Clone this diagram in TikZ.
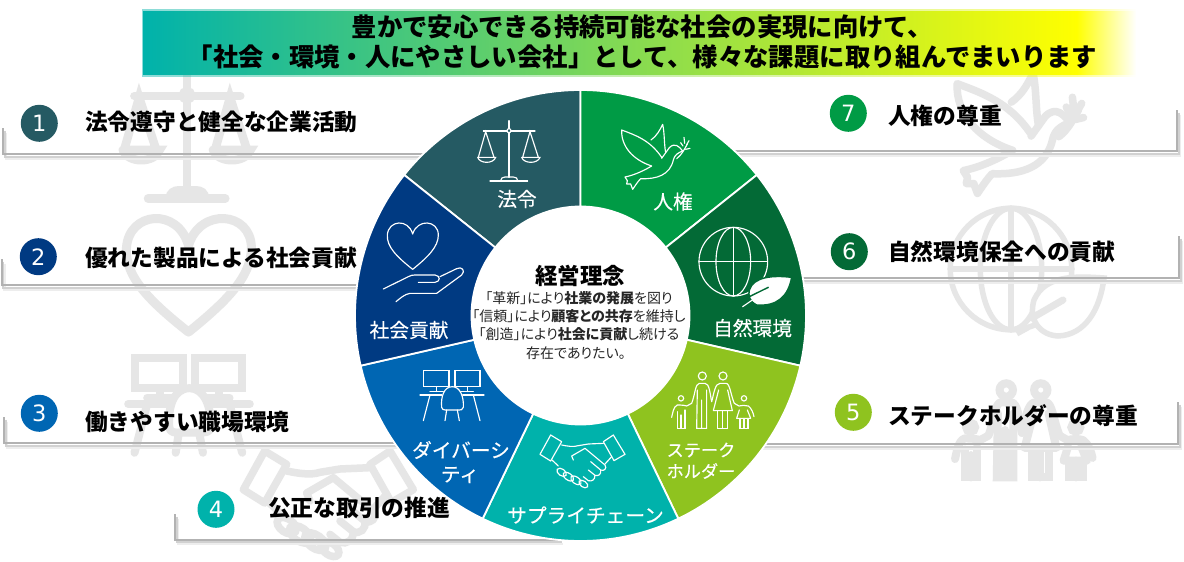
\documentclass[tikz,border=0pt]{standalone}
\usepackage{fontspec}
\newfontfamily\jp{Noto Sans CJK JP}
\newfontfamily\jpp[RawFeature=+palt]{Noto Sans CJK JP}
\newfontfamily\jpm[FakeBold=0.3]{Noto Sans CJK JP}
\newfontfamily\numf{DejaVu Sans}
\usetikzlibrary{calc}
\definecolor{cLaw}{HTML}{255A63}
\definecolor{cContrib}{HTML}{003A82}
\definecolor{cDiv}{HTML}{0066B3}
\definecolor{cChain}{HTML}{00B2AB}
\definecolor{cStake}{HTML}{8FC31F}
\definecolor{cNature}{HTML}{036A36}
\definecolor{cRights}{HTML}{009B45}
\definecolor{wm}{HTML}{E6E6E6}
\definecolor{bracketc}{HTML}{B2B2B2}
\pgfdeclarehorizontalshading{bannershade}{100bp}{color(0bp)=(cChain); color(25bp)=(cChain); color(72bp)=(yellow); color(75bp)=(white); color(100bp)=(white)}
\newcommand{\fs}[1]{\fontsize{#1}{#1}\selectfont}
\newcommand{\Rout}{225.5pt}
\newcommand{\Rin}{109pt}
\newcommand{\sector}[3]{\fill[#1,draw=white,line width=1.8pt] ($(c)+(#2:\Rout)$) arc[start angle=#2,end angle=#3,radius=\Rout] -- ($(c)+(#3:\Rin)$) arc[start angle=#3,end angle=#2,radius=\Rin] -- cycle;}
\newcommand{\iconScales}{%
 \draw (507,122)--(507,146) (507,158)--(507,292) (430,153)--(501,153) (513,153)--(585,153);
 \draw (507,152) circle[radius=6];
 \draw (450,303)--(563,303);
 \draw (482,302) .. controls (482,295) and (488,291) .. (495,291) -- (520,291) .. controls (528,291) and (533,295) .. (533,302);
 \draw (415,232)--(437,155)--(462,232) (413,232)--(467,232) .. controls (460,252) and (420,252) .. (413,232);
 \draw (548,232)--(570,155)--(595,232) (545,232)--(600,232) .. controls (593,252) and (552,252) .. (545,232);
}
\newcommand{\iconDove}{%
 \draw[line join=round] (965,232) .. controls (930,180) and (885,165) .. (845,150) .. controls (843,200) and (880,240) .. (935,258) .. controls (915,270) and (885,285) .. (855,291) -- (862,302) -- (860,312) -- (872,312) -- (878,328) .. controls (885,318) and (893,305) .. (902,296) .. controls (950,298) and (990,285) .. (1000,240) .. controls (1003,225) and (1015,218) .. (1028,213) .. controls (1018,200) and (1005,186) .. (988,203) -- (965,235);
 \draw[line join=round] (933,180) .. controls (950,168) and (960,150) .. (968,133) .. controls (974,160) and (972,190) .. (977,218);
 \draw (1010,236) .. controls (1025,225) and (1035,205) .. (1042,192);
 \draw (1022,188)--(1029,198) (1032,172)--(1034,190) (1047,182)--(1040,194) (1050,205)--(1037,208);
}
\newcommand{\iconHeart}{%
 \draw[line join=round] (218,568) .. controls (170,530) and (140,500) .. (142,465) .. controls (145,420) and (205,415) .. (218,462) .. controls (232,415) and (295,420) .. (295,465) .. controls (295,500) and (265,530) .. (218,568);
}
\newcommand{\iconHand}{%
 \draw[line join=round] (130,627) -- (205,590) .. controls (212,586) and (218,585) .. (225,585) -- (285,585) .. controls (302,587) and (302,605) .. (285,607) -- (235,607);
 \draw[line join=round] (300,590) -- (350,566) .. controls (365,558) and (378,572) .. (365,585) -- (290,640) -- (210,640) .. controls (195,642) and (180,655) .. (168,665);
}
\newcommand{\iconGlobe}{%
 \draw (1180,545) circle[radius=103];
 \draw (1180,545) ellipse[x radius=52,y radius=103];
 \draw (1180,442)--(1180,648) (1077,545)--(1283,545);
}
\newcommand{\iconLeaf}{%
 \fill[white,draw=cNature,line width=1.5pt] (1355,592) .. controls (1300,585) and (1240,590) .. (1228,630) .. controls (1224,645) and (1228,665) .. (1250,675) .. controls (1310,680) and (1345,650) .. (1355,592) -- cycle;
 \draw[cNature,line width=1.4pt] (1228,650) -- (1285,622);
 \draw[white] (1208,680) -- (1240,658);
}
\newcommand{\iconDesk}{%
 \draw (250,212) rectangle (327,260) (345,212) rectangle (420,260);
 \draw (290,260)--(290,275) (383,260)--(383,275) (270,275)--(310,275) (362,275)--(400,275);
 \draw (240,285)--(305,285) (368,285)--(432,285);
 \draw (270,285)--(250,362) (400,285)--(420,362);
 \draw[line join=round] (305,322) .. controls (302,290) and (312,260) .. (337,260) .. controls (360,260) and (372,290) .. (370,322) .. controls (368,330) and (362,330) .. (358,330) -- (316,330) .. controls (310,330) and (306,328) .. (305,322) -- cycle;
 \draw (320,330)--(315,362) (352,330)--(358,362);
}
\newcommand{\iconShake}{%
 \draw[line join=round] (632,405)--(665,425)--(632,483)--(600,463)--cycle;
 \draw[line join=round] (820,405)--(855,463)--(822,482)--(790,425)--cycle;
 \draw[line join=round] (665,435) .. controls (680,438) and (700,442) .. (715,437) -- (745,432) -- (790,430);
 \draw[line join=round] (700,480) -- (695,468) -- (735,445) -- (795,495) .. controls (802,505) and (792,515) .. (782,510) -- (752,485);
 \draw (782,510) .. controls (785,522) and (775,530) .. (765,526) -- (745,510);
 \draw (765,526) .. controls (765,540) and (755,545) .. (745,542) -- (730,530);
 \draw (815,470) -- (795,492);
 \draw (636,480) -- (655,498);
 \draw[rotate around={35:(665,517)}] (665,517) ellipse[x radius=16,y radius=10];
 \draw[rotate around={35:(685,530)}] (685,530) ellipse[x radius=18,y radius=10];
 \draw[rotate around={35:(708,541)}] (708,541) ellipse[x radius=18,y radius=10];
 \draw[rotate around={35:(730,552)}] (730,552) ellipse[x radius=15,y radius=9];
}
\newcommand{\iconFamily}{%
 \draw (1087,228) circle[radius=12] (1149,228) circle[radius=12] (1023,295) circle[radius=8] (1212,295) circle[radius=8];
 \draw[line join=round] (1115,305) .. controls (1110,280) and (1108,250) .. (1095,250) -- (1078,250) .. controls (1066,250) and (1065,285) .. (1055,310) -- (1040,318) .. controls (1035,316) and (1025,315) .. (1012,315) .. controls (1000,320) and (998,340) .. (995,352);
 \draw (1072,270)--(1070,385)--(1100,385)--(1100,270) (1085,300)--(1085,385);
 \draw[line join=round] (1115,305) .. controls (1122,280) and (1125,250) .. (1140,250) -- (1158,250) .. controls (1170,250) and (1172,285) .. (1183,310) -- (1197,318) .. controls (1205,316) and (1215,315) .. (1225,318) .. controls (1235,325) and (1240,340) .. (1242,350);
 \draw[line join=round] (1136,270)--(1120,332)--(1177,332)--(1163,270);
 \draw (1133,332)--(1133,385)--(1163,385)--(1163,332) (1148,332)--(1148,385);
 \draw (1012,335)--(1012,385)--(1035,385)--(1035,330) (1023,345)--(1023,385);
 \draw[line join=round] (1198,330)--(1190,355)--(1232,355)--(1222,330);
 \draw (1200,355)--(1200,385)--(1224,385)--(1224,355) (1212,355)--(1212,385);
}
\tikzset{
 iconw/.style={shift={(340,#1)},scale=1/3,draw=white,line width=1.15pt,line cap=round},
 wmark/.style n args={6}{shift={(#1,#2)},scale=#3/3,shift={(-#4,-#5)},draw=wm,line width=#6,line cap=round},
 numdot/.style={circle,inner sep=0pt,minimum size=37pt,text=white,font=\numf\fs{22.5}},
 listtext/.style={anchor=west,inner sep=0pt,text=black,font=\jp\bfseries\fs{22.7}},
 seglabel/.style={align=center,inner sep=0pt,text=white,font=\jpm\fs{19.7}},
 hubline/.style={inner sep=0pt,text=black!85,font=\jpp\fs{14}},
 rule1/.style={draw=bracketc,line width=2pt},
 rule2/.style={draw=black!18,line width=2pt},
 rule3/.style={draw=black!7,line width=2.5pt},
}
\newcommand{\bracket}[2]{%
 \draw[rule3] ($(#1)+(3,4.5)$) |- ($(#2)+(3,4.5)$);
 \draw[rule2] ($(#1)+(1.5,2.5)$) |- ($(#2)+(1.5,2.5)$);
 \draw[rule1] (#1) |- (#2);
}
\begin{document}
\begin{tikzpicture}[x=1pt,y=1pt,yscale=-1]
\useasboundingbox (0,0) rectangle (1184,562);
\fill[white] (0,0) rectangle (1184,562);
% watermarks
\begin{scope}[wmark={187}{137}{2.05}{507}{213}{8.5pt}] \iconScales \end{scope}
\begin{scope}[wmark={188.5}{270}{2.45}{218}{492}{9pt}] \iconHeart \end{scope}
\begin{scope}[wmark={189}{404}{1.9}{336}{285}{8pt}] \iconDesk \end{scope}
\begin{scope}[wmark={328}{503}{2}{727}{483}{7.5pt}] \iconShake \end{scope}
\begin{scope}[wmark={1020}{133}{1.85}{947}{230}{7.5pt}] \iconDove \end{scope}
\begin{scope}[wmark={1011}{269}{1.77}{1180}{545}{5.5pt}] \iconGlobe \end{scope}
\fill[white,draw=wm,line width=5.5pt] (1104,278) .. controls (1075,276) and (1045,275) .. (1034,300) .. controls (1028,320) and (1040,335) .. (1058,336) .. controls (1085,335) and (1100,310) .. (1104,278) -- cycle;
\draw[wm,line width=7pt,line cap=round] (1032,318) -- (1063,300);
\draw[wm,line width=5pt] (1017,334) -- (1028,328);
\begin{scope}[wmark={1023.5}{390}{1.67}{1118}{228}{8pt}] \iconFamily \end{scope}
% banner
\shade[shading=bannershade,opacity=.45] (142,9) rectangle (1136,76);
\shade[shading=bannershade] (143,11) rectangle (1136,74);
\node[inner sep=0pt,text=black,font=\jp\bfseries\fs{25.36}] (bann1) at (642.5,27) {豊かで安心できる持続可能な社会の実現に向けて、};
\node[inner sep=0pt,text=black,font=\jp\bfseries\fs{25.36}] (bann2) at (642.5,57) {「社会・環境・人にやさしい会社」として、様々な課題に取り組んでまいります};
% brackets
\coordinate (b1a) at (3,128); \coordinate (b1b) at (430,154);
\coordinate (b2a) at (1.5,259); \coordinate (b2b) at (370,285);
\coordinate (b3a) at (4,417); \coordinate (b3b) at (400,443);
\coordinate (b4a) at (175,514); \coordinate (b4b) at (560,539.5);
\coordinate (b7a) at (1177,110); \coordinate (b7b) at (730,151);
\coordinate (b6a) at (1179,236); \coordinate (b6b) at (790,278);
\coordinate (b5a) at (1178,402); \coordinate (b5b) at (760,444);
\bracket{b1a}{b1b} \bracket{b2a}{b2b} \bracket{b3a}{b3b} \bracket{b4a}{b4b}
\bracket{b7a}{b7b} \bracket{b6a}{b6b} \bracket{b5a}{b5b}
% donut (y axis points down, so angles run clockwise on the page)
\coordinate (c) at (580.5,315.5);
\sector{cLaw}{-141.43}{-90}
\sector{cRights}{-90}{-38.57}
\sector{cNature}{-38.57}{12.86}
\sector{cStake}{12.86}{64.29}
\sector{cChain}{64.29}{115.71}
\sector{cDiv}{115.71}{167.14}
\sector{cContrib}{167.14}{218.57}
\node[circle,fill=white,minimum size=218pt,inner sep=0pt] (hub) at (c) {};
% icons on the donut
\begin{scope}[iconw=80] \iconScales \end{scope}
\begin{scope}[iconw=80] \iconDove \end{scope}
\begin{scope}[iconw=80] \iconHeart \iconHand \end{scope}
\begin{scope}[iconw=80] \iconGlobe \iconLeaf \end{scope}
\begin{scope}[iconw=300] \iconDesk \end{scope}
\begin{scope}[iconw=300] \iconShake \end{scope}
\begin{scope}[iconw=300] \iconFamily \end{scope}
% segment labels
\node[seglabel] (sLaw) at (517,199) {法令};
\node[seglabel] (sRights) at (673,201.5) {人権};
\node[seglabel] (sNature) at (752.5,328) {自然環境};
\node[seglabel] (sContrib) at (409,330) {社会貢献};
\node[seglabel] (sDiv1) at (461,450) {ダイバーシ};
\node[seglabel] (sDiv2) at (460,475) {ティ};
\node[seglabel] (sChain) at (585.5,515) {サプライチェーン};
\node[seglabel,font=\jpm\fs{17.2}] (sStake1) at (701,450) {ステーク};
\node[seglabel,font=\jpm\fs{17.2}] (sStake2) at (701,471) {ホルダー};
% centre
\node[inner sep=0pt,font=\jp\bfseries\fs{22.5}] (hubT) at (580,276) {経営理念};
\node[hubline] (hub1) at (579,298.5) {「革新」により{\bfseries 社業の発展}を図り};
\node[hubline] (hub2) at (579,316.5) {「信頼」により{\bfseries 顧客との共存}を維持し};
\node[hubline] (hub3) at (579,334.5) {「創造」により{\bfseries 社会に貢献}し続ける};
\node[hubline] (hub4) at (576,353) {存在でありたい。};
% list
\node[numdot,fill=cLaw] (n1) at (39.3,123.3) {1};
\node[numdot,fill=cContrib] (n2) at (38.3,256.7) {2};
\node[numdot,fill=cDiv] (n3) at (39.3,413.3) {3};
\node[numdot,fill=cChain] (n4) at (216,509.3) {4};
\node[numdot,fill=cRights] (n7) at (848.3,113.3) {7};
\node[numdot,fill=cNature] (n6) at (849.3,251.7) {6};
\node[numdot,fill=cStake] (n5) at (853.3,412.3) {5};
\node[listtext] (t1) at (85,122) {法令遵守と健全な企業活動};
\node[listtext] (t2) at (85,258) {優れた製品による社会貢献};
\node[listtext] (t3) at (85,422) {働きやすい職場環境};
\node[listtext] (t4) at (268,508) {公正な取引の推進};
\node[listtext] (t7) at (888,116) {人権の尊重};
\node[listtext] (t6) at (888,252) {自然環境保全への貢献};
\node[listtext] (t5) at (888,416) {ステークホルダーの尊重};
\end{tikzpicture}
\end{document}
